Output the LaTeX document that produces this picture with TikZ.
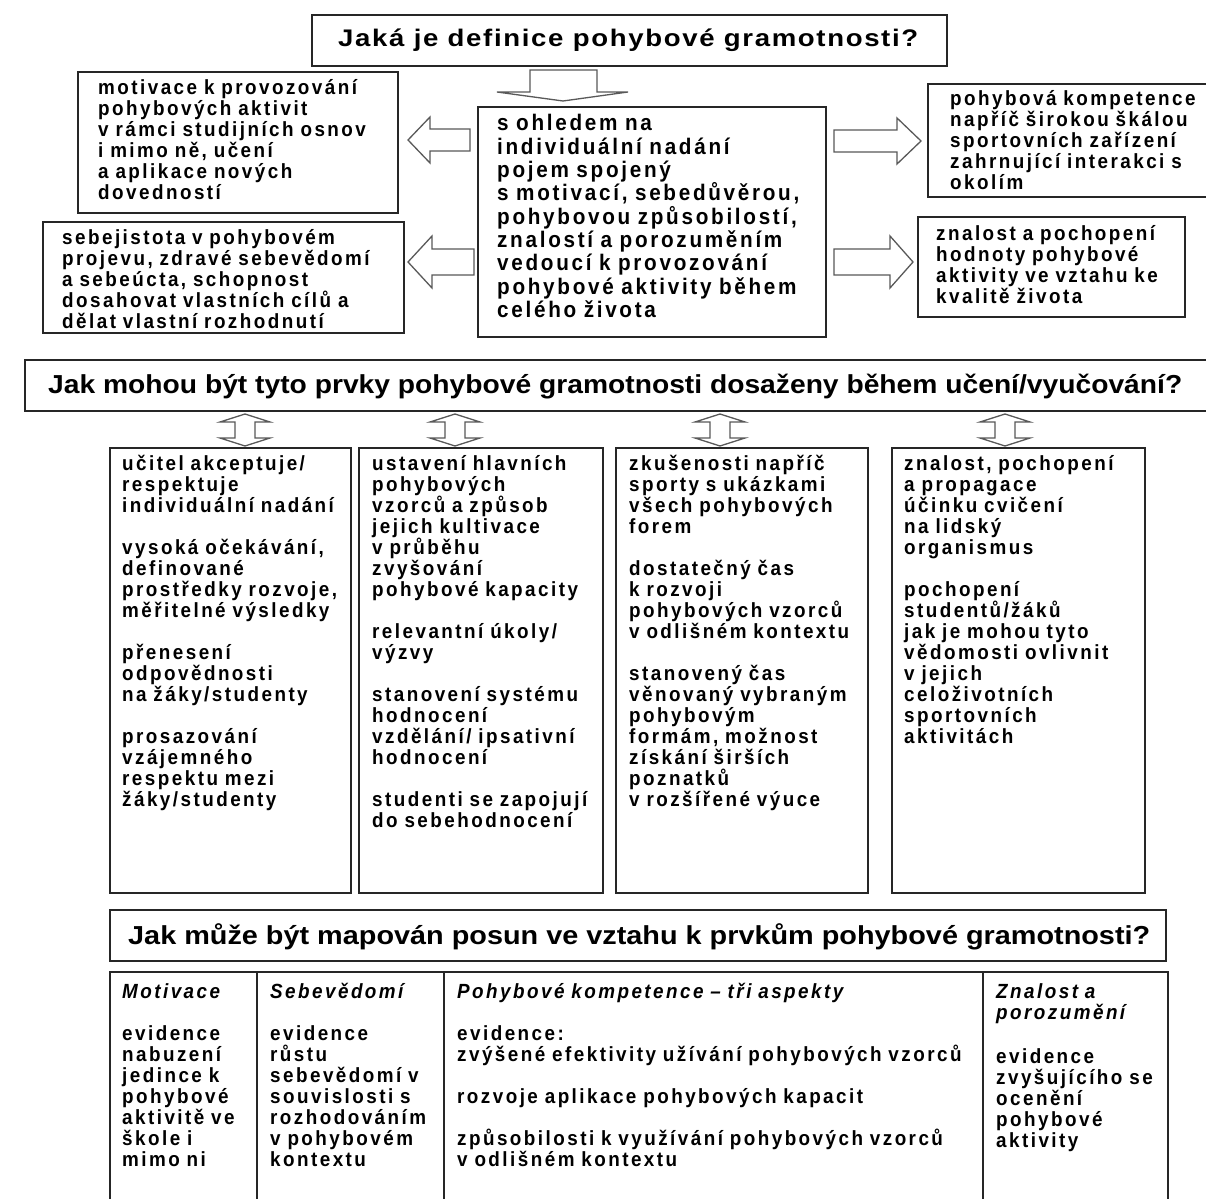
\documentclass[tikz,border=0pt]{standalone}
\usepackage{fontspec}
\usepackage{graphicx}
\setmainfont{Liberation Sans}[LetterSpace=12,FakeStretch=0.92]
\newfontfamily\ttlfont{Liberation Sans}[LetterSpace=6]
\newfontfamily\ttlnarrow{Liberation Sans}
\tikzset{
  boxst/.style={draw=black!85, line width=2pt, inner sep=0pt},
  txt/.style={inner sep=0pt, anchor=north west, align=left, text width=#1,
    font=\bfseries\fontsize{20.5}{21}\selectfont,
    execute at begin node=\rule{0pt}{15.5pt}},
  txt/.default=330pt,
  ctxt/.style={inner sep=0pt, anchor=north west, align=left, text width=340pt,
    font=\bfseries\fontsize{22.5}{23.3}\selectfont,
    execute at begin node=\rule{0pt}{17.2pt}},
  ttl/.style={inner sep=0pt, anchor=base west, font=\bfseries\fontsize{24}{28}\selectfont},
  ttlb/.style={inner sep=0pt, anchor=base west, font=\bfseries\fontsize{26}{30}\selectfont},
  blk/.style={draw=black!65, line width=1.3pt, fill=white, line join=miter},
}
\newcommand\bx[5]{\node[boxst, minimum width={(#4-#2)*1pt}, minimum height={(#5-#3)*1pt}] (#1) at ({(#2+#4)/2},{-(#3+#5)/2}) {};}
% horizontal block arrow: tail x, head-base x, tip x, centre y, shaft half, head half
\newcommand\harr[6]{\draw[blk] ({#1},{-(#4)+#5}) -- ({#2},{-(#4)+#5}) -- ({#2},{-(#4)+#6}) -- ({#3},{-(#4)}) -- ({#2},{-(#4)-#6}) -- ({#2},{-(#4)-#5}) -- ({#1},{-(#4)-#5}) -- cycle;}
% vertical double arrow: centre x, top y, bottom y, shaft half, head half, head depth
\newcommand\vdarr[6]{\draw[blk] ({#1},{-(#2)}) -- ({#1+#5},{-(#2)-#6}) -- ({#1+#4},{-(#2)-#6}) -- ({#1+#4},{-(#3)+#6}) -- ({#1+#5},{-(#3)+#6}) -- ({#1},{-(#3)}) -- ({#1-#5},{-(#3)+#6}) -- ({#1-#4},{-(#3)+#6}) -- ({#1-#4},{-(#2)-#6}) -- ({#1-#5},{-(#2)-#6}) -- cycle;}
\begin{document}
\begin{tikzpicture}[x=1pt,y=1pt]
\fill[white] (0,0) rectangle (1206,-1198);
\useasboundingbox (0,0) rectangle (1206,-1198);

% ---------- top part ----------
\bx{t1}{312}{15}{947}{66}
\node[ttl] (t1t) at (338,-47) {\ttlfont\resizebox{580pt}{\height}{Jaká je definice pohybové gramotnosti?}};

% down arrow
\draw[blk] (530,-70) -- (597,-70) -- (597,-92) -- (628,-92) -- (563,-101) -- (497,-92) -- (530,-92) -- cycle;

\bx{c}{478}{107}{826}{337}
\node[ctxt] (ct) at (497,-113.6) {s ohledem na\\individuální nadání\\pojem spojený\\s motivací, sebedůvěrou,\\pohybovou způsobilostí,\\znalostí a porozuměním\\vedoucí k provozování\\pohybové aktivity během\\celého života};

\bx{lt}{78}{72}{398}{213}
\node[txt] (ltt) at (98,-79) {motivace k provozování\\pohybových aktivit\\v rámci studijních osnov\\i mimo ně, učení\\a aplikace nových\\dovedností};

\bx{lb}{43}{222}{404}{333}
\node[txt] (lbt) at (62,-229) {sebejistota v pohybovém\\projevu, zdravé sebevědomí\\a sebeúcta, schopnost\\dosahovat vlastních cílů a\\dělat vlastní rozhodnutí};

\bx{rt}{928}{84}{1210}{197}
\node[txt] (rtt) at (950,-90) {pohybová kompetence\\napříč širokou škálou\\sportovních zařízení\\zahrnující interakci s\\okolím};

\bx{rb}{918}{217}{1185}{317}
\node[txt] (rbt) at (936,-225) {znalost a pochopení\\hodnoty pohybové\\aktivity ve vztahu ke\\kvalitě života};

% side arrows
\harr{470}{430}{408}{140}{11}{23}
\harr{474}{432}{408}{262}{13}{26}
\harr{834}{897}{921}{141}{11}{23}
\harr{834}{890}{913}{262}{13}{26}

% ---------- middle part ----------
\bx{t2}{25}{360}{1210}{411}
\node[ttlb] (t2t) at (48,-393) {\ttlnarrow\resizebox{1134pt}{\height}{Jak mohou být tyto prvky pohybové gramotnosti dosaženy během učení/vyučování?}};

\vdarr{245}{414}{446}{10}{25}{8}
\vdarr{455}{414}{446}{10}{25}{8}
\vdarr{720}{414}{446}{10}{25}{8}
\vdarr{1005}{414}{446}{10}{25}{8}

\bx{k1}{110}{448}{351}{893}
\bx{k2}{359}{448}{603}{893}
\bx{k3}{616}{448}{868}{893}
\bx{k4}{892}{448}{1145}{893}

\node[txt=225pt] (k1t) at (122,-455) {učitel akceptuje/\\respektuje\\individuální nadání\\[21pt]vysoká očekávání,\\definované\\prostředky rozvoje,\\měřitelné výsledky\\[21pt]přenesení\\odpovědnosti\\na žáky/studenty\\[21pt]prosazování\\vzájemného\\respektu mezi\\žáky/studenty};
\node[txt=230pt] (k2t) at (372,-455) {ustavení hlavních\\pohybových\\vzorců a způsob\\jejich kultivace\\v průběhu\\zvyšování\\pohybové kapacity\\[21pt]relevantní úkoly/\\výzvy\\[21pt]stanovení systému\\hodnocení\\vzdělání/ ipsativní\\hodnocení\\[21pt]studenti se zapojují\\do sebehodnocení};
\node[txt=235pt] (k3t) at (629,-455) {zkušenosti napříč\\sporty s ukázkami\\všech pohybových\\forem\\[21pt]dostatečný čas\\k rozvoji\\pohybových vzorců\\v odlišném kontextu\\[21pt]stanovený čas\\věnovaný vybraným\\pohybovým\\formám, možnost\\získání širších\\poznatků\\v rozšířené výuce};
\node[txt=235pt] (k4t) at (904,-455) {znalost, pochopení\\a propagace\\účinku cvičení\\na lidský\\organismus\\[21pt]pochopení\\studentů/žáků\\jak je mohou tyto\\vědomosti ovlivnit\\v jejich\\celoživotních\\sportovních\\aktivitách};

% ---------- bottom part ----------
\bx{t3}{110}{910}{1166}{961}
\node[ttlb] (t3t) at (128,-944) {\ttlnarrow\resizebox{1022pt}{\height}{Jak může být mapován posun ve vztahu k prvkům pohybové gramotnosti?}};

\draw[boxst] (110,-1210) -- (110,-972) -- (1168,-972) -- (1168,-1210);
\draw[boxst] (257,-972) -- (257,-1210);
\draw[boxst] (444,-972) -- (444,-1210);
\draw[boxst] (983,-972) -- (983,-1210);

\node[txt=140pt] (m1) at (122,-983) {\itshape Motivace\\[21pt]\upshape evidence\\nabuzení\\jedince k\\pohybové\\aktivitě ve\\škole i\\mimo ni};
\node[txt=170pt] (m2) at (270,-983) {\itshape Sebevědomí\\[21pt]\upshape evidence\\růstu\\sebevědomí v\\souvislosti s\\rozhodováním\\v pohybovém\\kontextu};
\node[txt=530pt] (m3) at (457,-983) {\itshape Pohybové kompetence – tři aspekty\\[21pt]\upshape evidence:\\zvýšené efektivity užívání pohybových vzorců\\[21pt]rozvoje aplikace pohybových kapacit\\[21pt]způsobilosti k využívání pohybových vzorců\\v odlišném kontextu};
\node[txt=180pt] (m4) at (996,-983) {\itshape Znalost a\\porozumění\\[23pt]\upshape evidence\\zvyšujícího se\\ocenění\\pohybové\\aktivity};
\end{tikzpicture}
\end{document}
